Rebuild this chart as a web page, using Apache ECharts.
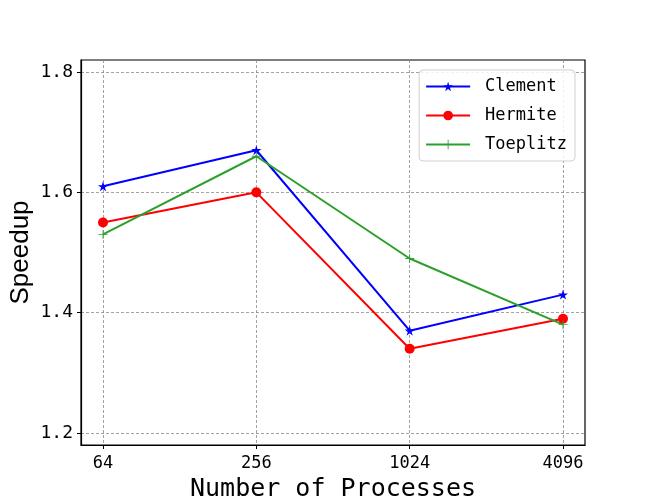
<!DOCTYPE html>
<html>
<head>
<meta charset="utf-8">
<script src="https://cdn.jsdelivr.net/npm/echarts@6/dist/echarts.min.js"></script>
<style>
  html, body { margin: 0; padding: 0; background: #fff; }
  #chart { width: 650px; height: 500px; }
</style>
</head>
<body>
<div id="chart"></div>
<script>
// data
const processes = ['64', '256', '1024', '4096'];
const clement = [1.61, 1.67, 1.37, 1.43];
const hermite = [1.55, 1.60, 1.34, 1.39];
const toeplitz = [1.53, 1.66, 1.49, 1.38];
const yTicks = [1.2, 1.4, 1.6, 1.8];

const mono = 'DejaVu Sans Mono';
const plusPath = 'path://M-1,-0.09L-0.09,-0.09L-0.09,-1L0.09,-1L0.09,-0.09L1,-0.09L1,0.09L0.09,0.09L0.09,1L-0.09,1L-0.09,0.09L-1,0.09Z';
const starPath = 'path://M0,-1L0.2245,-0.309L0.951,-0.309L0.363,0.118L0.588,0.809L0,0.382L-0.588,0.809L-0.363,0.118L-0.951,-0.309L-0.2245,-0.309Z';

function pairs(values) {
  return values.map((v, i) => [i, v]);
}

function makeSeries(name, values, color, symbol, size) {
  return {
    name: name,
    type: 'line',
    data: pairs(values),
    symbol: symbol,
    symbolSize: size,
    showSymbol: true,
    lineStyle: { color: color, width: 2 },
    itemStyle: { color: color },
    emphasis: { disabled: true },
    animation: false
  };
}

const chart = echarts.init(document.getElementById('chart'));
chart.setOption({
  backgroundColor: '#fff',
  animation: false,
  grid: {
    left: 81, right: 65, top: 60, bottom: 55,
    outerBoundsMode: 'none',
    containLabel: false,
    show: true, borderColor: '#000', borderWidth: 1.2, backgroundColor: 'transparent'
  },
  legend: {
    right: 75, top: 70,
    orient: 'vertical',
    itemWidth: 44, itemHeight: 12, itemGap: 12,
    padding: [8, 8, 8, 6],
    borderColor: '#d0d0d0', borderWidth: 1, borderRadius: 4,
    backgroundColor: 'rgba(255,255,255,0.85)',
    textStyle: { fontFamily: mono, fontSize: 17, color: '#000', padding: [0, 0, 0, 10] },
    data: ['Clement', 'Hermite', 'Toeplitz']
  },
  xAxis: {
    type: 'value',
    min: -0.1435, max: 3.1435,
    name: 'Number of Processes',
    nameLocation: 'middle',
    nameGap: 31,
    nameTextStyle: { fontFamily: mono, fontSize: 25, color: '#000' },
    axisLine: { show: true, onZero: false, lineStyle: { color: '#000', width: 1.2 } },
    axisTick: { show: true, inside: false, length: 4, customValues: [0, 1, 2, 3], lineStyle: { color: '#000' } },
    axisLabel: {
      customValues: [0, 1, 2, 3],
      formatter: v => processes[Math.round(v)],
      fontFamily: mono, fontSize: 17, color: '#000', margin: 10
    },
    splitLine: { show: true, lineStyle: { color: '#8a8a8a', type: [3, 2], width: 0.8 } }
  },
  yAxis: {
    type: 'value',
    min: 1.18, max: 1.82,
    name: 'Speedup',
    nameLocation: 'middle',
    nameGap: 47,
    nameMoveOverlap: false,
    nameTextStyle: { fontFamily: 'Liberation Sans', fontSize: 26, color: '#000' },
    axisLine: { show: true, onZero: false, lineStyle: { color: '#000', width: 1.2 } },
    axisTick: { show: true, inside: false, length: 4, customValues: yTicks, lineStyle: { color: '#000' } },
    axisLabel: {
      customValues: yTicks,
      formatter: v => v.toFixed(1),
      fontFamily: mono, fontSize: 18, color: '#000', margin: 8
    },
    splitLine: { show: true, lineStyle: { color: '#8a8a8a', type: [3, 2], width: 0.8 } }
  },
  series: [
    makeSeries('Clement', clement, '#0000ff', starPath, 10),
    makeSeries('Hermite', hermite, '#ff0000', 'circle', 10),
    makeSeries('Toeplitz', toeplitz, '#2ca02c', plusPath, 9)
  ]
});
</script>
</body>
</html>
